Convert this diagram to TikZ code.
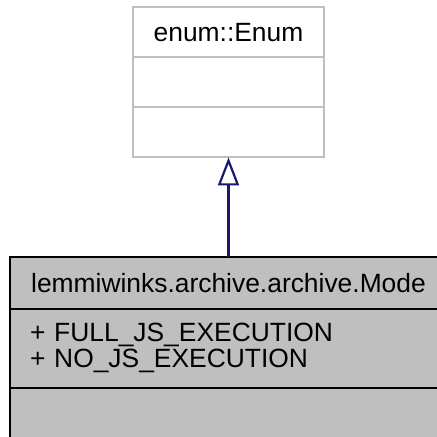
\documentclass[tikz,border=0pt]{standalone}
\usepackage{fontspec}
\setmainfont{Liberation Sans}
\usetikzlibrary{arrows.meta,positioning}
\definecolor{umlgrey}{HTML}{BFBFBF}
\definecolor{edgeblue}{HTML}{191970}

\begin{document}
\begin{tikzpicture}[
  x=0.5pt, y=-0.5pt,
  font=\fontsize{13.2}{13.2}\selectfont,
  basepart/.style={draw=umlgrey, line width=1pt, fill=white, outer sep=0pt, inner sep=0pt, minimum width=95.5pt, minimum height=25pt},
  classpart/.style={draw=black, line width=1pt, fill=umlgrey, outer sep=0pt, inner sep=0pt, minimum width=218.5pt, minimum height=25.5pt},
  inherit/.style={-{Triangle[open, length=14pt, width=10.5pt]}, draw=edgeblue, line width=1.1pt},
  node distance=0pt
]
\useasboundingbox (0,0) rectangle (437,437);
\clip (0,0) rectangle (437,437);
\fill[white] (0,0) rectangle (437,437);

% base class
\node[basepart] (enumName) at (228.5,32.5) {enum::Enum};
\node[basepart, below=of enumName] (enumAttr) {};
\node[basepart, below=of enumAttr] (enumOps) {};

% derived class
\node[classpart, below=50pt of enumOps] (modeName) {lemmiwinks.archive.archive.Mode};
\node[classpart, below=of modeName, minimum height=39.5pt, inner xsep=10pt, text width=198.5pt, align=left] (modeAttr) {+ FULL\_JS\_EXECUTION\\+ NO\_JS\_EXECUTION};
\node[classpart, below=of modeAttr] (modeOps) {};

\draw[inherit] (modeName) -- (enumOps);
\end{tikzpicture}
\end{document}
